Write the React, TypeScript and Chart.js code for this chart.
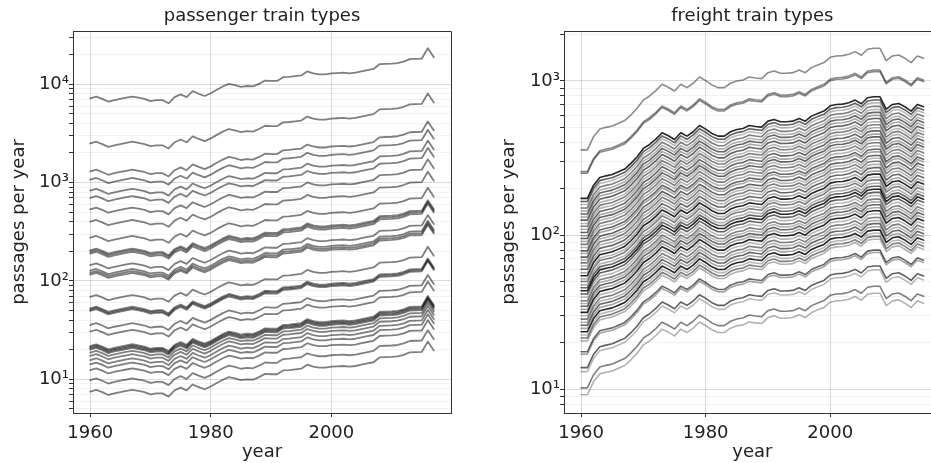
import React, { useEffect, useRef } from "react";
import { Chart, registerables } from "chart.js";

Chart.register(...registerables);

// ---------------- data ----------------
const passengerYears = [
  1960, 1961, 1962, 1963, 1964, 1965, 1966, 1967, 1968, 1969,
  1970, 1971, 1972, 1973, 1974, 1975, 1976, 1977, 1978, 1979,
  1980, 1981, 1982, 1983, 1984, 1985, 1986, 1987, 1988, 1989,
  1990, 1991, 1992, 1993, 1994, 1995, 1996, 1997, 1998, 1999,
  2000, 2001, 2002, 2003, 2004, 2005, 2006, 2007, 2008, 2009,
  2010, 2011, 2012, 2013, 2014, 2015, 2016, 2017,
];

// top passenger line, the others follow its shape
const passengerProfile = [
  7200, 7500, 7100, 6650, 6900, 7100, 7300, 7500, 7300, 7100,
  6750, 6900, 6900, 6400, 7400, 7900, 7400, 8500, 8000, 7600,
  8100, 8800, 9500, 10100, 9800, 9400, 9600, 9500, 10100, 10900,
  10800, 10800, 11800, 11900, 12100, 12300, 13500, 12900, 12600, 12600,
  12900, 13000, 13100, 12900, 13100, 13500, 13900, 14300, 16000, 16100,
  16200, 16400, 17000, 18000, 18100, 18200, 23200, 18800,
];

// 1960 value of every passenger train type
const passengerLevels = [
  7200, 2500, 1300, 1070, 830, 700, 535, 400, 275, 205, 198, 190,
  145, 127, 121, 116, 69, 52.5, 51, 49.5, 35.7, 30.6,
  21.8, 21.2, 20.6, 20, 18.7, 17.3, 15.7, 14.2, 12.4, 9.8, 7.5,
];

const freightYears = [
  1960, 1961, 1962, 1963, 1964, 1965, 1966, 1967, 1968, 1969,
  1970, 1971, 1972, 1973, 1974, 1975, 1976, 1977, 1978, 1979,
  1980, 1981, 1982, 1983, 1984, 1985, 1986, 1987, 1988, 1989,
  1990, 1991, 1992, 1993, 1994, 1995, 1996, 1997, 1998, 1999,
  2000, 2001, 2002, 2003, 2004, 2005, 2006, 2007, 2008, 2009,
  2010, 2011, 2012, 2013, 2014, 2015,
];

// top freight line, the others follow its shape
const freightProfile = [
  357, 357, 435, 488, 500, 510, 531, 553, 602, 665,
  753, 799, 866, 952, 910, 861, 952, 905, 966, 1060,
  1005, 942, 905, 905, 966, 1000, 1015, 1060, 1046, 1035,
  1132, 1161, 1121, 1121, 1132, 1179, 1132, 1220, 1270, 1315,
  1424, 1453, 1460, 1489, 1550, 1468, 1605, 1629, 1629, 1355,
  1453, 1475, 1403, 1315, 1453, 1403,
];

// 1960 value of every freight train type
const freightLevels = [
  357, 258, 252,
  173, 165, 158, 150, 143, 137, 131, 125, 119, 114, 109, 104, 99, 95, 91, 87,
  83, 79, 76, 72, 69, 66, 63, 60, 57, 54.5, 52, 50, 47.5, 45.5, 43.5, 41.5,
  39.5, 37.5, 36, 34.5, 33, 31.5, 30, 28.5, 27.2, 26, 24.8, 23.6, 22.5, 21.5,
  20.6, 17.5, 16.9, 13.8, 13.0, 10.2, 9.2,
];

const yearTicks = [1960, 1980, 2000];

// ---------------- styles ----------------
const FONT = "'DejaVu Sans', sans-serif";
const TEXT = "#222222";
const freightShades = freightLevels.map((v, i) => {
  if ([3, 28, 33, 40, 46].includes(i)) return 0.85;
  if (i < 3) return 0.45;
  return [0.5, 0.3, 0.6, 0.35, 0.62, 0.28][i % 6];
});
const passengerShades = passengerLevels.map(() => 0.5);

const SUP: Record<string, string> = {
  "0": "\u2070", "1": "\u00b9", "2": "\u00b2", "3": "\u00b3", "4": "\u2074",
  "5": "\u2075", "6": "\u2076", "7": "\u2077", "8": "\u2078", "9": "\u2079",
};

function isDecade(v: number) {
  const l = Math.log10(v);
  return Math.abs(l - Math.round(l)) < 1e-6;
}

function logTicks(min: number, max: number) {
  const out: { value: number }[] = [];
  for (let e = Math.floor(Math.log10(min)); e <= Math.ceil(Math.log10(max)); e++) {
    for (let k = 1; k <= 9; k++) {
      const v = k * Math.pow(10, e);
      if (v >= min && v <= max) out.push({ value: v });
    }
  }
  return out;
}

const framePlugin = {
  id: "frame",
  afterDatasetsDraw(chart: any) {
    const { ctx, chartArea } = chart;
    const a = (p: number) => Math.round(p + 0.5) - 0.5;
    ctx.save();
    ctx.strokeStyle = "#333333";
    ctx.lineWidth = 1;
    ctx.beginPath();
    ctx.moveTo(a(chartArea.left), a(chartArea.top));
    ctx.lineTo(a(chartArea.right), a(chartArea.top));
    ctx.lineTo(a(chartArea.right), a(chartArea.bottom));
    ctx.stroke();
    ctx.restore();
  },
};

interface PanelCfg {
  title: string;
  years: number[];
  profile: number[];
  levels: number[];
  shades: number[];
  lineWidth: number;
  xMin: number;
  xMax: number;
  yMin: number;
  yMax: number;
  yAxisWidth: number;
  yTitlePad: number;
  padRight: number;
}

function makeConfig(p: PanelCfg): any {
  const font = { family: FONT, size: 18, weight: "normal" as const, lineHeight: 1.2 };
  const datasets = p.levels.map((lvl, i) => ({
    data: p.years.map((yr, j) => ({ x: yr, y: (p.profile[j] * lvl) / p.profile[0] })),
    borderColor: `rgba(0,0,0,${p.shades[i]})`,
    borderWidth: p.lineWidth,
    pointRadius: 0,
    tension: 0,
    fill: false,
    borderJoinStyle: "round",
    borderCapStyle: "round",
  }));
  return {
    type: "line",
    data: { datasets },
    options: {
      animation: false,
      responsive: false,
      maintainAspectRatio: false,
      devicePixelRatio: 1,
      events: [],
      layout: { padding: { top: 0, left: 0, right: p.padRight, bottom: 0 } },
      plugins: {
        legend: { display: false },
        tooltip: { enabled: false },
        title: {
          display: true,
          text: p.title,
          fullSize: false,
          color: TEXT,
          font,
          padding: { top: 5.7, bottom: 3.7 },
        },
      },
      scales: {
        x: {
          type: "linear",
          min: p.xMin,
          max: p.xMax,
          afterBuildTicks: (s: any) => {
            s.ticks = yearTicks.map((v) => ({ value: v }));
          },
          afterFit: (s: any) => {
            s.height = 50;
          },
          ticks: {
            callback: (v: number) => String(v),
            font,
            color: TEXT,
            padding: 5.2,
            autoSkip: false,
            maxRotation: 0,
          },
          grid: {
            color: "rgba(0,0,0,0.14)",
            lineWidth: 1,
            tickColor: "#333333",
            tickLength: 4,
          },
          border: { color: "#333333", width: 1 },
          title: {
            display: true,
            text: "year",
            color: TEXT,
            font,
            padding: { top: 0, bottom: 0.2 },
          },
        },
        y: {
          type: "logarithmic",
          min: p.yMin,
          max: p.yMax,
          afterBuildTicks: (s: any) => {
            s.ticks = logTicks(p.yMin, p.yMax);
          },
          afterFit: (s: any) => {
            s.width = p.yAxisWidth;
          },
          ticks: {
            callback: (v: number) =>
              isDecade(v) ? "10" + SUP[String(Math.round(Math.log10(v)))] : "",
            font,
            color: TEXT,
            padding: 0,
            autoSkip: false,
          },
          grid: {
            color: (c: any) =>
              c.tick && isDecade(c.tick.value) ? "rgba(0,0,0,0.14)" : "rgba(0,0,0,0.05)",
            lineWidth: 1,
            tickColor: "#333333",
            tickLength: 4,
          },
          border: { color: "#333333", width: 1 },
          title: {
            display: true,
            text: "passages per year",
            color: TEXT,
            font,
            padding: { top: p.yTitlePad, bottom: 0 },
          },
        },
      },
    },
    plugins: [framePlugin],
  };
}

const passengerPanel: PanelCfg = {
  title: "passenger train types",
  years: passengerYears,
  profile: passengerProfile,
  levels: passengerLevels,
  shades: passengerShades,
  lineWidth: 1.8,
  xMin: 1957.15,
  xMax: 2019.85,
  yMin: 4.54,
  yMax: 34800,
  yAxisWidth: 73,
  yTitlePad: 8.4,
  padRight: 19,
};

const freightPanel: PanelCfg = {
  title: "freight train types",
  years: freightYears,
  profile: freightProfile,
  levels: freightLevels,
  shades: freightShades,
  lineWidth: 1.6,
  xMin: 1957.25,
  xMax: 2017.75,
  yMin: 7.01,
  yMax: 2109,
  yAxisWidth: 94,
  yTitlePad: 28.4,
  padRight: 19.3,
};

export default function App() {
  const leftRef = useRef<HTMLCanvasElement>(null);
  const rightRef = useRef<HTMLCanvasElement>(null);

  useEffect(() => {
    Chart.defaults.font.family = FONT;
    const c1 = new Chart(leftRef.current as HTMLCanvasElement, makeConfig(passengerPanel));
    const c2 = new Chart(rightRef.current as HTMLCanvasElement, makeConfig(freightPanel));
    return () => {
      c1.destroy();
      c2.destroy();
    };
  }, []);

  return (
    <div
      style={{
        position: "fixed",
        left: 0,
        top: 0,
        width: 931,
        height: 463,
        overflow: "hidden",
        background: "#ffffff",
      }}
    >
      <canvas
        ref={leftRef}
        width={470}
        height={463}
        style={{ position: "absolute", left: 0, top: 0, width: 470, height: 463 }}
      />
      <canvas
        ref={rightRef}
        width={490}
        height={463}
        style={{ position: "absolute", left: 470, top: 0, width: 490, height: 463 }}
      />
    </div>
  );
}
